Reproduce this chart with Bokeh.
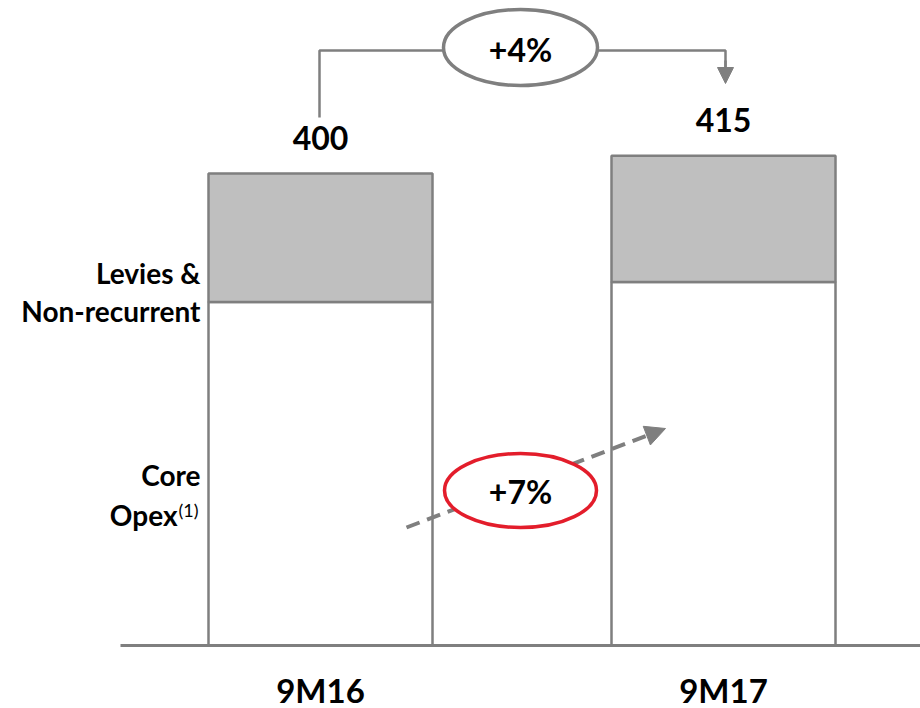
from bokeh.plotting import figure
from bokeh.models import Range1d, Arrow, NormalHead
from bokeh.core.properties import value
from bokeh.embed import file_html
from bokeh.resources import INLINE

# Operating expenses, by period
periods = ["9M16", "9M17"]
core_opex = [291, 308]
levies_nonrec = [109, 107]
totals = [400, 415]
core_growth = "+7%"
total_growth = "+4%"

W, H = 920, 708
# scale: 1.18 px per unit, zero line at 645 px from top
YS = 1.18
Y0 = 645
# bar slots: 403 px apart, first centred at 320 px
XS = 403
X0 = 320

def ux(px):
    return (px - X0) / XS

def uy(py):
    return (Y0 - py) / YS

p = figure(width=W, height=H, output_backend="svg", toolbar_location=None,
           x_range=Range1d(ux(0), ux(W)), y_range=Range1d(uy(H), uy(0)),
           min_border=0, outline_line_color=None)
p.axis.visible = False
p.grid.visible = False
p.background_fill_color = "white"

FONT = value("Lato")
GRAY = "#7f7f7f"
xs = list(range(len(periods)))
bw = 224 / XS

tops2 = [c + l for c, l in zip(core_opex, levies_nonrec)]

p.vbar(x=xs, width=bw, bottom=0, top=core_opex, fill_color="white",
       line_color=GRAY, line_width=2.5)
p.vbar(x=xs, width=bw, bottom=core_opex, top=tops2, fill_color="#bfbfbf",
       line_color=GRAY, line_width=2.5)

# baseline
p.line(x=[ux(120), ux(920)], y=[0, 0], line_color=GRAY, line_width=3)

# totals above the bars
p.text(x=xs, y=[t + 36 / YS for t in totals], text=[str(t) for t in totals],
       text_font=FONT, text_font_style="bold", text_font_size="32px",
       text_align="center", text_baseline="middle", text_color="black")

# period labels
p.text(x=xs, y=[uy(689)] * 2, text=periods, text_font=FONT,
       text_font_style="bold", text_font_size="33px", text_align="center",
       text_baseline="middle", text_color="black")

# segment labels
lab_x = ux(200)
p.text(x=[lab_x, lab_x, lab_x], y=[uy(272), uy(310), uy(474)],
       text=["Levies &", "Non-recurrent", "Core"], text_font=FONT,
       text_font_style="bold", text_font_size="28px", text_align="right",
       text_baseline="middle", text_color="black")
p.text(x=[ux(177)], y=[uy(514)], text=["Opex"], text_font=FONT,
       text_font_style="bold", text_font_size="28px", text_align="right",
       text_baseline="middle", text_color="black")
p.text(x=[ux(178)], y=[uy(509)], text=["(1)"], text_font=FONT,
       text_font_size="18px", text_align="left",
       text_baseline="middle", text_color="black")

# total growth connector
p.line(x=[ux(319), ux(319), ux(725), ux(725)],
       y=[uy(117), uy(50), uy(50), uy(68)], line_color=GRAY, line_width=2.5)
p.add_layout(Arrow(end=NormalHead(size=16, fill_color=GRAY, line_color=GRAY),
                   x_start=ux(725), y_start=uy(60), x_end=ux(725), y_end=uy(83),
                   line_color=GRAY, line_width=2.5))
p.ellipse(x=[ux(520)], y=[uy(47)], width=154 / XS, height=76 / YS,
          fill_color="white", line_color=GRAY, line_width=3.5)
p.text(x=[ux(520)], y=[uy(49)], text=[total_growth], text_font=FONT,
       text_font_style="bold", text_font_size="32px", text_align="center",
       text_baseline="middle", text_color="black")

# core growth: dashed shaft drawn as a glyph so the red ellipse covers it
sx0, sy0, sx1, sy1 = 406, 527, 665, 428
p.line(x=[ux(sx0), ux(sx0 + (sx1 - sx0) * 0.95)],
       y=[uy(sy0), uy(sy0 + (sy1 - sy0) * 0.95)],
       line_color=GRAY, line_width=4, line_dash="14 8")
p.add_layout(Arrow(end=NormalHead(size=20, fill_color=GRAY, line_color=GRAY),
                   x_start=ux(sx0 + (sx1 - sx0) * 0.9), y_start=uy(sy0 + (sy1 - sy0) * 0.9),
                   x_end=ux(sx1), y_end=uy(sy1), line_alpha=0))
p.ellipse(x=[ux(520)], y=[uy(490)], width=152 / XS, height=74 / YS,
          fill_color="white", line_color="#e31d2b", line_width=3.5)
p.text(x=[ux(520)], y=[uy(491)], text=[core_growth], text_font=FONT,
       text_font_style="bold", text_font_size="32px", text_align="center",
       text_baseline="middle", text_color="black")

open("out.html", "w").write(file_html(p, INLINE))
